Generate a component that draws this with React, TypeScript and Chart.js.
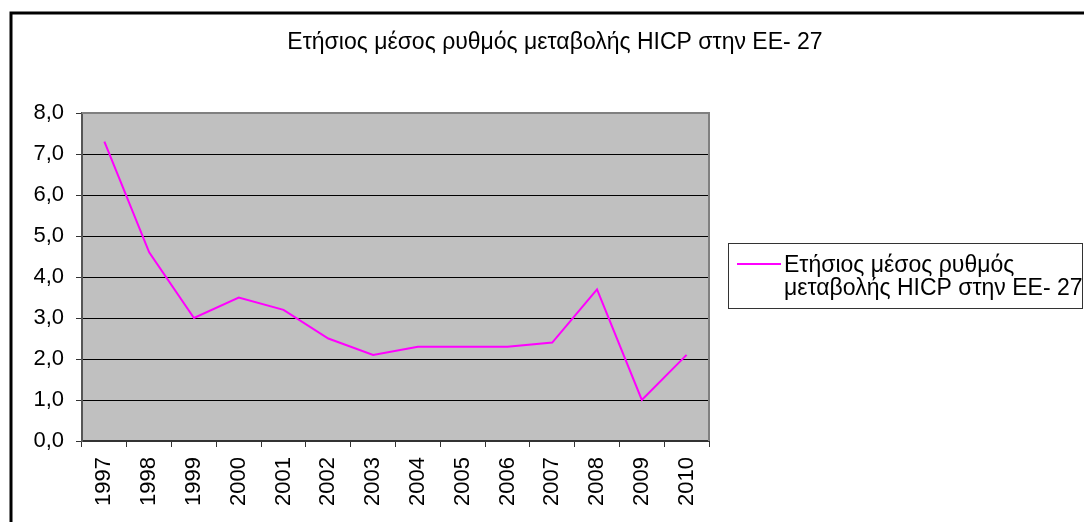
import React, { useEffect, useRef } from "react";
import { Chart, registerables } from "chart.js";

Chart.register(...registerables);

const titleText = "Ετήσιος μέσος ρυθμός μεταβολής HICP στην ΕΕ- 27";
const seriesName = "Ετήσιος μέσος ρυθμός μεταβολής HICP στην ΕΕ- 27";
const legendLines = ["Ετήσιος μέσος ρυθμός", "μεταβολής HICP στην ΕΕ- 27"];
const years = ["1997", "1998", "1999", "2000", "2001", "2002", "2003", "2004", "2005", "2006", "2007", "2008", "2009", "2010"];
const values = [7.3, 4.6, 3.0, 3.5, 3.2, 2.5, 2.1, 2.3, 2.3, 2.3, 2.4, 3.7, 1.0, 2.1];

const FONT = "'Liberation Sans', Arial, sans-serif";

export default function App() {
  const ref = useRef<HTMLCanvasElement | null>(null);
  useEffect(() => {
    const canvas = ref.current!;
    const decor = {
      id: "decor",
      beforeDraw(chart: any) {
        const ctx = chart.ctx;
        const a = chart.chartArea;
        ctx.save();
        ctx.fillStyle = "#ffffff";
        ctx.fillRect(0, 0, chart.width, chart.height);
        ctx.fillStyle = "#C0C0C0";
        ctx.fillRect(a.left, a.top, a.right - a.left, a.bottom - a.top);
        ctx.restore();
      },
      afterDraw(chart: any) {
        const ctx = chart.ctx;
        const a = chart.chartArea;
        ctx.save();
        // plot border top & right
        ctx.strokeStyle = "#808080";
        ctx.lineWidth = 2;
        ctx.beginPath();
        ctx.moveTo(a.left, a.top);
        ctx.lineTo(a.right, a.top);
        ctx.lineTo(a.right, a.bottom);
        ctx.stroke();
        // outer frame
        ctx.strokeStyle = "#000000";
        ctx.lineWidth = 3;
        ctx.beginPath();
        ctx.moveTo(11, chart.height + 5);
        ctx.lineTo(11, 13);
        ctx.lineTo(chart.width + 5, 13);
        ctx.stroke();
        // title
        ctx.fillStyle = "#000";
        ctx.font = `23px ${FONT}`;
        ctx.textAlign = "center";
        ctx.textBaseline = "alphabetic";
        ctx.fillText(titleText, 555, 49);
        // legend
        ctx.strokeStyle = "#333333";
        ctx.lineWidth = 1;
        ctx.strokeRect(728.5, 243.5, 354, 65);
        ctx.strokeStyle = "#FF00FF";
        ctx.lineWidth = 2;
        ctx.beginPath();
        ctx.moveTo(737, 264);
        ctx.lineTo(781, 264);
        ctx.stroke();
        ctx.fillStyle = "#000";
        ctx.textAlign = "left";
        ctx.font = `23px ${FONT}`;
        ctx.fillText(legendLines[0], 784, 272);
        ctx.fillText(legendLines[1], 784, 295);
        ctx.restore();
      },
    };
    const chart = new Chart(canvas, {
      type: "line",
      data: {
        labels: years,
        datasets: [
          {
            label: seriesName,
            data: values,
            borderColor: "#FF00FF",
            backgroundColor: "#FF00FF",
            borderWidth: 2,
            pointRadius: 0,
            tension: 0,
            fill: false,
          },
        ],
      },
      options: {
        animation: false,
        responsive: false,
        maintainAspectRatio: false,
        layout: { padding: { left: 0, top: 113, right: 375, bottom: 0 } },
        plugins: {
          legend: { display: false },
          title: { display: false },
          tooltip: { enabled: false },
        },
        scales: {
          x: {
            offset: true,
            afterFit(scale: any) {
              scale.height = 81;
            },
            grid: {
              offset: true,
              drawOnChartArea: false,
              drawTicks: true,
              tickLength: 6,
              color: "#333333",
              lineWidth: 1,
            },
            border: { color: "#333333", width: 2 },
            ticks: {
              minRotation: 90,
              maxRotation: 90,
              autoSkip: false,
              padding: 10,
              color: "#000",
              font: { family: FONT, size: 22 },
            },
          },
          y: {
            min: 0,
            max: 8,
            afterFit(scale: any) {
              scale.width = 82;
            },
            grid: {
              color: (c: any) => (c.tick && c.tick.value === 8 ? "#808080" : "#000000"),
              lineWidth: 1,
              drawTicks: true,
              tickLength: 6,
              tickColor: "#333333",
            },
            border: { color: "#555555", width: 2 },
            ticks: {
              stepSize: 1,
              padding: 12,
              color: "#000",
              font: { family: FONT, size: 22 },
              callback: (v: any) => Number(v).toFixed(1).replace(".", ","),
            },
          },
        },
      },
      plugins: [decor],
    });
    return () => chart.destroy();
  }, []);
  return (
    <div style={{ position: "absolute", left: 0, top: 0, width: 1084, height: 522 }}>
      <canvas ref={ref} width={1084} height={522} style={{ width: 1084, height: 522, display: "block" }} />
    </div>
  );
}
